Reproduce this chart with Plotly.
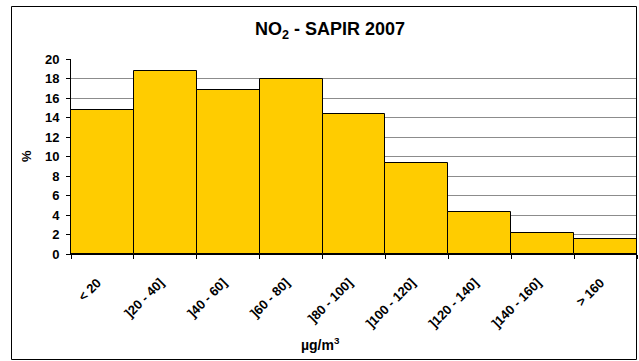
import plotly.graph_objects as go

categories = ["< 20", "]20 - 40]", "]40 - 60]", "]60 - 80]", "]80 - 100]",
              "]100 - 120]", "]120 - 140]", "]140 - 160]", "> 160"]
values = [14.8, 18.8, 16.85, 17.95, 14.33, 9.33, 4.34, 2.19, 1.5]
y_ticks = list(range(0, 21, 2))

W, H = 639, 361
L, R, T, B = 71, 2, 59, 107
pw, ph = W - L - R, H - T - B

def px_x(x):
    return (x - L) / pw

def px_y(y):
    return (H - B - y) / ph

FONT = "Liberation Sans, Arial, sans-serif"
tickfont = dict(size=13, family=FONT, color="black", weight="bold")

fig = go.Figure(go.Bar(
    x=categories, y=values,
    marker=dict(color="#FFCC00", line=dict(color="#000000", width=1)),
))

fig.update_layout(
    width=W, height=H,
    margin=dict(l=L, r=R, t=T, b=B, autoexpand=False),
    paper_bgcolor="white", plot_bgcolor="white",
    bargap=0,
    showlegend=False,
    font=dict(family=FONT, color="black"),
    title=dict(text="<b>NO<sub>2</sub> - SAPIR 2007</b>", x=330 / W, xanchor="center",
               y=1 - 29 / H, yanchor="middle", font=dict(size=18)),
    xaxis=dict(
        type="category", tickson="boundaries", ticks="outside", ticklen=4,
        tickcolor="black", showline=True, linecolor="black", linewidth=1,
        tickmode="array", tickvals=categories,
        ticktext=[c + "\u00a0\u00a0" for c in categories],
        tickangle=-45, tickfont=tickfont, automargin=False, ticklabelstandoff=10,
        showgrid=False,
    ),
    yaxis=dict(
        range=[0, 20], tickvals=y_ticks, ticks="outside", ticklen=4, tickcolor="black",
        showline=True, linecolor="black", linewidth=1,
        showgrid=True, gridcolor="#8c8c8c", gridwidth=1,
        tickfont=tickfont, automargin=False, ticklabelstandoff=4,
        zeroline=False,
    ),
    annotations=[
        dict(text="<b>%</b>", x=px_x(26), y=px_y(156), xref="paper", yref="paper",
             xanchor="center", yanchor="middle",
             showarrow=False, textangle=-90, font=dict(size=13)),
        dict(text="<b>µg/m<sup>3</sup></b>", x=px_x(320), y=px_y(344), xref="paper", yref="paper",
             xanchor="center", yanchor="middle",
             showarrow=False, font=dict(size=14)),
    ],
    shapes=[
        dict(type="rect", xref="paper", yref="paper",
             x0=px_x(11.5), x1=px_x(636.5), y0=px_y(359.5), y1=px_y(6.5),
             line=dict(color="black", width=1), fillcolor="rgba(0,0,0,0)", layer="above"),
    ],
)

fig.write_html("out.html", config={"displayModeBar": False},
               post_script="document.body.style.margin='0';document.body.style.overflow='hidden';")
